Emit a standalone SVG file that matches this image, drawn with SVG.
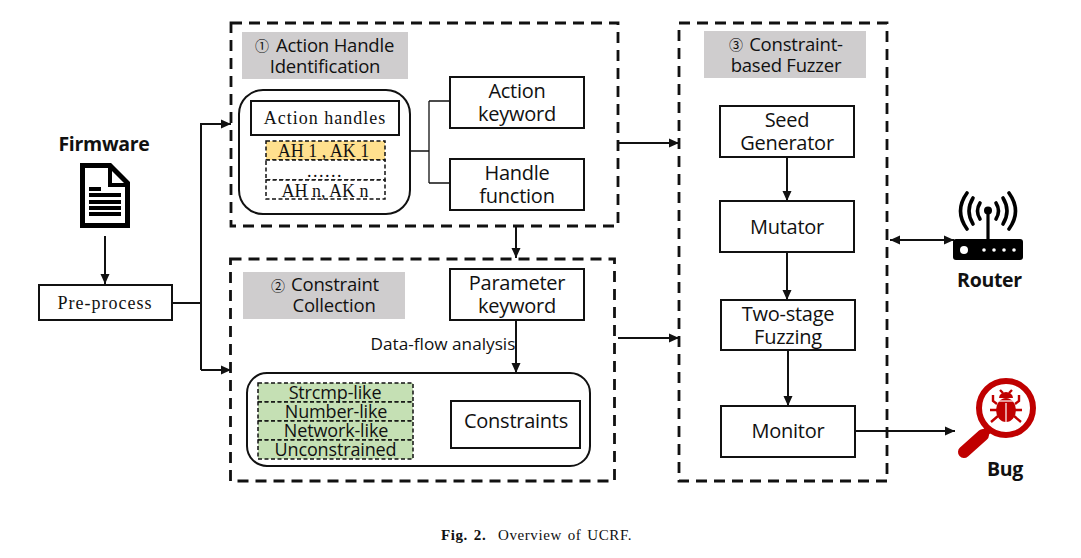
<svg xmlns="http://www.w3.org/2000/svg" width="1081" height="558" viewBox="0 0 1081 558">
<style>
text{font-family:"Open Sans","Noto Sans",sans-serif;fill:#111;text-anchor:middle}
.s{font-size:20px;letter-spacing:-.25px}
.b{font-size:19.500px;font-weight:700;letter-spacing:-.3px}
.t{font-family:"Liberation Serif",serif;font-size:18px}
.w{letter-spacing:1px}
.m{font-size:18.500px;letter-spacing:-.2px}
.g{font-size:18px;letter-spacing:-.15px}
.n{font-family:"Noto Sans CJK JP",sans-serif;font-size:14px}
.box{fill:#fff;stroke:#111;stroke-width:2}
.dash{fill:none;stroke:#111;stroke-width:2.800;stroke-dasharray:11 7}
.gray{fill:#cfcdce}
.rr{fill:#fff;stroke:#111;stroke-width:2}
.cell{stroke:#111;stroke-width:1.500;stroke-dasharray:4 2.500}
.c{fill:none;stroke:#111;stroke-width:2}
.th{fill:none;stroke:#111;stroke-width:1.300}
</style>
<defs>
<marker id="a" markerUnits="userSpaceOnUse" markerWidth="12" markerHeight="12" refX="10" refY="5" orient="auto-start-reverse"><path d="M0 0.500L10 5L0 9.500Z" fill="#111"/></marker>
</defs>
<g id="regions">
<rect class="dash" x="231" y="23" width="387" height="203"/>
<rect class="dash" x="230.500" y="259" width="384" height="222"/>
<rect class="dash" x="679" y="23" width="208" height="458"/>
</g>
<g id="connectors">
<path class="c" d="M105 236V284" marker-end="url(#a)"/>
<path class="c" d="M172 303H201"/>
<path class="c" d="M201 370V124H231" marker-end="url(#a)"/>
<path class="c" d="M201 370H231" marker-end="url(#a)"/>
<path class="th" d="M410 151H429M429 101V183M429 101H449M429 183H449"/>
<path class="c" d="M516 226V258" marker-end="url(#a)"/>
<path class="c" d="M516 320V373" marker-end="url(#a)"/>
<path class="c" d="M618 143H679" marker-end="url(#a)"/>
<path class="c" d="M618 338H679" marker-end="url(#a)"/>
<path class="c" d="M787 157V201" marker-end="url(#a)"/>
<path class="c" d="M787 252V300" marker-end="url(#a)"/>
<path class="c" d="M788 350V406" marker-end="url(#a)"/>
<path class="c" d="M856 431H955" marker-end="url(#a)"/>
<path class="c" d="M890 240H954" marker-start="url(#a)" marker-end="url(#a)"/>
</g>
<g id="firmware">
<text class="b" x="104" y="151">Firmware</text>
<path d="M82.500 165.500H110L127.500 183V225.500H82.500Z" fill="#fff" stroke="#000" stroke-width="5"/>
<path d="M110 167V185H126" fill="none" stroke="#000" stroke-width="4"/>
<path d="M89 187H101V191H89ZM89 193H121V197H89ZM89 200H121V204H89ZM89 206H121V210H89ZM89 212H121V216H89Z" fill="#000"/>
</g>
<g id="preprocess">
<rect class="box" x="39" y="285" width="133" height="35"/>
<text class="t w" x="105" y="309">Pre-process</text>
</g>
<g id="action-handle-identification">
<rect class="gray" x="242" y="32" width="166" height="47"/>
<text class="m" x="335" y="51.500">Action Handle</text>
<text class="m" x="325" y="72.500">Identification</text>
<text class="n" x="262" y="51">①</text>
</g>
<g id="action-handles-panel">
<rect class="rr" x="239" y="90" width="171" height="124" rx="24"/>
<rect class="box" x="251" y="101" width="148" height="34"/>
<text class="t w" x="325" y="124">Action handles</text>
<rect class="cell" x="266" y="141" width="119" height="19" fill="#ffe08e"/>
<rect class="cell" x="266" y="160" width="119" height="20" fill="#fff"/>
<rect class="cell" x="266" y="180" width="119" height="19" fill="#fff"/>
<text class="t" x="323.500" y="157">AH 1 , AK 1</text>
<text class="t" x="325" y="177" letter-spacing="1.500">......</text>
<text class="t" x="325" y="197">AH n, AK n</text>
</g>
<g id="action-keyword">
<rect class="box" x="450" y="77" width="134" height="51"/>
<text class="s" x="517" y="98">Action</text>
<text class="s" x="517" y="121">keyword</text>
</g>
<g id="handle-function">
<rect class="box" x="450" y="159" width="134" height="51"/>
<text class="s" x="517" y="180">Handle</text>
<text class="s" x="517" y="203">function</text>
</g>
<g id="constraint-collection">
<rect class="gray" x="243" y="272" width="162" height="47"/>
<text class="n" x="278" y="291">②</text>
<text class="m" x="335" y="291">Constraint</text>
<text class="m" x="334" y="312">Collection</text>
</g>
<g id="parameter-keyword">
<rect class="box" x="450" y="269" width="134" height="51"/>
<text class="s" x="517" y="290">Parameter</text>
<text class="s" x="517" y="313">keyword</text>
</g>
<g id="dataflow-label"><text x="443" y="350" font-size="17.200">Data-flow analysis</text></g>
<g id="constraints-panel">
<rect class="rr" x="247" y="373" width="343" height="93" rx="20"/>
<rect class="cell" x="258" y="383" width="155" height="19" fill="#c5e0b4"/>
<rect class="cell" x="258" y="402" width="155" height="19" fill="#c5e0b4"/>
<rect class="cell" x="258" y="421" width="155" height="19" fill="#c5e0b4"/>
<rect class="cell" x="258" y="440" width="155" height="19" fill="#c5e0b4"/>
<text class="g" x="335" y="399">Strcmp-like</text>
<text class="g" x="336" y="418">Number-like</text>
<text class="g" x="336" y="437">Network-like</text>
<text class="g" x="335.500" y="456">Unconstrained</text>
<rect class="box" x="451" y="401" width="129" height="47"/>
<text class="s" x="516" y="428">Constraints</text>
</g>
<g id="fuzzer-title">
<rect class="gray" x="704" y="31" width="162" height="47"/>
<text class="n" x="736" y="50">③</text>
<text class="m" x="796" y="51">Constraint-</text>
<text class="m" x="786" y="72">based Fuzzer</text>
</g>
<g id="seed-generator">
<rect class="box" x="720" y="106" width="134" height="51"/>
<text class="s" x="787" y="127">Seed</text>
<text class="s" x="787" y="150">Generator</text>
</g>
<g id="mutator">
<rect class="box" x="720" y="201" width="134" height="51"/>
<text class="s" x="787" y="234">Mutator</text>
</g>
<g id="two-stage-fuzzing">
<rect class="box" x="721" y="300" width="134" height="50"/>
<text class="s" x="788" y="321">Two-stage</text>
<text class="s" x="788" y="344">Fuzzing</text>
</g>
<g id="monitor">
<rect class="box" x="721" y="406" width="134" height="51"/>
<text class="s" x="788" y="438">Monitor</text>
</g>
<g id="router">
<rect x="953" y="239" width="70" height="21" rx="3" fill="#000"/>
<circle cx="964" cy="250" r="4" fill="#fff"/>
<g fill="#fff"><circle cx="984" cy="250" r="1.800"/><circle cx="994" cy="250" r="1.800"/><circle cx="1004" cy="250" r="1.800"/><circle cx="1014" cy="250" r="1.800"/></g>
<path d="M988 241V210" stroke="#000" stroke-width="3.200"/>
<circle cx="988" cy="210.500" r="4" fill="#000"/>
<g fill="none" stroke="#000" stroke-width="3.600" stroke-linecap="round">
<path d="M980 203Q975 211 980 219M996 203Q1001 211 996 219"/>
<path d="M973 198Q965 211 973 224M1003 198Q1011 211 1003 224"/>
<path d="M967 193Q954 211 967 229M1009 193Q1022 211 1009 229"/>
</g>
<text class="b" x="989.500" y="287">Router</text>
</g>
<g id="bug">
<circle cx="1006" cy="408" r="27" fill="#fff" stroke="#c00000" stroke-width="6"/>
<path d="M983 435L964 452" stroke="#c00000" stroke-width="12" stroke-linecap="round"/>
<path d="M981 437L990 428" stroke="#c00000" stroke-width="8"/>
<g fill="#c00000"><ellipse cx="1006" cy="410" rx="10" ry="12"/><path d="M999 398a7 6 0 0 1 14 0Z"/></g>
<path d="M1006 403V422" stroke="#fff" stroke-width="1.200"/>
<path d="M997 401H1015" stroke="#fff" stroke-width="1.200"/>
<g fill="none" stroke="#c00000" stroke-width="2.400"><path d="M997 404L993 401V395M1015 404L1019 401V395M997 410H990M1015 410H1022M998 416L991 422M1014 416L1021 422M1003 393L1000 390M1009 393L1012 390"/></g>
<text class="b" x="1005" y="476">Bug</text>
</g>
<g id="caption">
<text x="536.500" y="540" style="font-family:'Liberation Serif',serif;letter-spacing:.6px;word-spacing:1.500px" font-size="15" xml:space="preserve"><tspan font-weight="700">Fig. 2.</tspan>  Overview of UCRF.</text>
</g>
</svg>
